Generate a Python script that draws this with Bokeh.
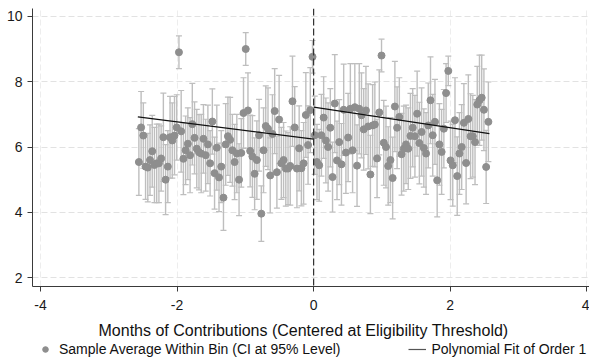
import numpy as np
from bokeh.plotting import figure
from bokeh.layouts import column
from bokeh.models import (Range1d, Whisker, TeeHead, ColumnDataSource, Span,
                          Legend, LegendItem, Title, FixedTicker)
from bokeh.embed import file_html
from bokeh.resources import INLINE

# ---------------- data ----------------
bin_width = 0.0326

left_y = [5.54, 6.60, 6.35, 5.40, 5.37, 5.60, 5.87, 5.45, 5.50, 5.50,
          5.65, 6.30, 5.00, 5.40, 6.30, 6.20, 6.35, 6.60, 8.90, 6.48,
          5.64, 5.90, 6.10, 5.75, 6.70, 6.28, 5.95, 5.84, 5.80, 6.25,
          5.75, 6.08, 5.50, 6.78, 5.20, 5.98, 5.07, 5.40, 4.45, 6.08,
          6.33, 6.22, 5.90, 5.54, 5.80, 5.00, 5.82, 7.04, 9.00, 7.12,
          5.88, 5.71, 5.18, 5.60, 6.36, 3.96, 5.90, 6.64, 6.56, 5.13,
          6.40, 7.10, 5.23, 6.84, 5.50, 5.60, 5.34, 5.34, 5.42, 7.40,
          6.60, 5.34, 5.96, 5.35, 5.50, 6.98, 6.06, 7.13, 8.76]
left_ci = [1.02, 1.10, 1.00, 1.00, 1.05, 1.08, 1.10, 1.15, 1.20, 1.20,
           1.00, 1.35, 1.07, 1.10, 1.25, 1.15, 1.20, 1.00, 0.50, 1.25,
           1.10, 1.05, 1.10, 1.15, 1.25, 1.10, 1.20, 1.15, 1.20, 1.05,
           1.10, 1.20, 1.00, 1.00, 1.10, 1.30, 1.05, 1.10, 1.00, 1.25,
           1.20, 1.30, 1.10, 1.15, 1.20, 1.10, 1.05, 1.08, 0.50, 1.15,
           1.10, 1.25, 1.10, 1.20, 1.10, 0.85, 1.30, 1.23, 1.25, 1.15,
           1.20, 1.30, 1.10, 1.35, 1.10, 1.15, 1.15, 1.10, 1.20, 1.38,
           1.25, 1.20, 1.30, 1.15, 1.25, 1.30, 1.20, 1.30, 0.50]

right_y = [6.36, 5.54, 5.44, 6.36, 6.90, 6.20, 6.00, 6.59, 5.08, 7.33,
           5.59, 6.15, 5.47, 7.14, 5.83, 6.29, 7.17, 5.90, 7.22, 5.43,
           7.17, 6.97, 6.54, 7.12, 6.63, 5.16, 6.66, 6.69, 5.65, 7.06,
           8.80, 6.13, 6.00, 5.42, 5.60, 5.05, 7.24, 6.59, 6.92, 5.78,
           5.95, 6.08, 5.95, 6.34, 6.59, 6.33, 7.02, 6.12, 6.46, 5.97,
           5.80, 6.66, 7.43, 6.36, 6.77, 4.98, 6.08, 5.85, 6.56, 7.65,
           8.33, 5.59, 5.44, 6.82, 5.11, 5.80, 6.00, 6.74, 5.51, 6.86,
           6.33, 6.33, 6.15, 7.30, 7.43, 7.51, 7.14, 5.39, 6.77]
right_ci = [1.20, 1.15, 1.10, 1.25, 1.25, 1.30, 1.35, 1.20, 1.07, 1.50,
            1.20, 1.30, 1.25, 1.40, 1.25, 1.35, 1.38, 1.30, 1.33, 1.25,
            1.38, 1.30, 1.25, 1.35, 1.30, 1.20, 1.25, 1.30, 1.20, 1.30,
            0.50, 1.30, 1.25, 1.20, 1.30, 1.25, 1.38, 1.25, 1.20, 1.25,
            1.30, 1.20, 1.25, 1.30, 1.20, 1.25, 1.30, 1.25, 1.35, 1.20,
            1.25, 1.30, 1.33, 1.25, 1.30, 1.12, 1.25, 1.30, 1.20, 0.90,
            0.45, 1.20, 1.25, 1.30, 1.20, 1.25, 1.30, 1.20, 1.25, 1.35,
            1.30, 1.25, 1.30, 1.17, 1.38, 1.30, 1.25, 1.12, 1.22]

fit_left_x = [-2.574, 0.0]
fit_left_y = [6.92, 6.24]
fit_right_x = [0.0, 2.574]
fit_right_y = [7.22, 6.41]

x_ticks = [-4, -2, 0, 2, 4]
y_ticks = [2, 4, 6, 8, 10]
x_title = "Months of Contributions (Centered at Eligibility Threshold)"
legend_points = "Sample Average Within Bin (CI at 95% Level)"
legend_fit = "Polynomial Fit of Order 1"

# ---------------- build ----------------
nl = len(left_y)
left_x = [-(nl - i - 0.5) * bin_width for i in range(nl)]
right_x = [(i + 0.5) * bin_width for i in range(len(right_y))]

xs = left_x + right_x
ys = left_y + right_y
cis = left_ci + right_ci
src = ColumnDataSource(dict(
    x=xs, y=ys,
    lo=[y - c for y, c in zip(ys, cis)],
    hi=[y + c for y, c in zip(ys, cis)],
))

FONT = "Liberation Sans"
PT_COLOR = "#8e8e8e"
FIT_COLOR = "#111111"

p = figure(width=589, height=345, output_backend="svg", toolbar_location=None,
           x_range=Range1d(-4.117, 4.04), y_range=Range1d(1.73, 10.24),
           min_border_left=32, min_border_right=0, min_border_top=8,
           min_border_bottom=52)
p.outline_line_color = None
p.background_fill_color = "white"
p.border_fill_color = "white"

p.xaxis.ticker = FixedTicker(ticks=x_ticks)
p.yaxis.ticker = FixedTicker(ticks=y_ticks)
p.xaxis.major_label_overrides = {t: str(t) for t in x_ticks}
p.axis.minor_tick_line_color = None
p.axis.major_tick_out = 5
p.axis.major_tick_in = 0
p.axis.axis_line_color = "#3a3a3a"
p.axis.major_tick_line_color = "#3a3a3a"
p.axis.major_label_text_font = FONT
p.axis.major_label_text_font_size = "14px"
p.axis.major_label_text_color = "#1a1a1a"
p.xaxis.major_label_standoff = 8
p.yaxis.major_label_standoff = 5

p.ygrid.grid_line_color = "#e2e2e2"
p.ygrid.grid_line_dash = "6 3"
p.xgrid.grid_line_color = "#ededed"
p.xgrid.grid_line_dash = "6 3"

ci_color = "#bebebe"
wh = Whisker(source=src, base="x", upper="hi", lower="lo", dimension="height",
             line_color=ci_color, line_width=1.4,
             upper_head=TeeHead(size=6, line_color=ci_color, line_width=1.2),
             lower_head=TeeHead(size=6, line_color=ci_color, line_width=1.2))
p.add_layout(wh)

p.scatter("x", "y", source=src, marker="circle", size=7,
          fill_color=PT_COLOR, line_color=PT_COLOR)

p.add_layout(Span(location=0, dimension="height", line_color="#333333",
                  line_width=1.2, line_dash="7 3"))

p.line(fit_left_x, fit_left_y, line_color=FIT_COLOR, line_width=1.3)
p.line(fit_right_x, fit_right_y, line_color=FIT_COLOR, line_width=1.3)

title = Title(text=x_title, align="left", offset=66, text_font=FONT,
              text_font_size="16px", text_font_style="normal",
              text_color="#111111", standoff=14)
p.add_layout(title, "below")

# ---- legend strip underneath (slightly overlapping the empty bottom of p) ----
lg = figure(width=589, height=21, output_backend="svg", toolbar_location=None,
            x_axis_type=None, y_axis_type=None, min_border=0,
            x_range=Range1d(0, 1), y_range=Range1d(0, 1))
lg.margin = (-4, 0, 0, 0)
lg.outline_line_color = None
lg.background_fill_alpha = 0
lg.border_fill_alpha = 0
lg.xgrid.visible = False
lg.ygrid.visible = False
# off-range proxies: only their legend swatches show
dummy_pts = lg.scatter([-10], [-10], marker="circle", size=7,
                       fill_color=PT_COLOR, line_color=PT_COLOR)
dummy_fit = lg.line([-10, -9], [-10, -10], line_color="#555555", line_width=1.2)

leg = Legend(items=[LegendItem(label=legend_points, renderers=[dummy_pts]),
                    LegendItem(label=legend_fit, renderers=[dummy_fit])],
             orientation="horizontal", location=(4, 5), spacing=68,
             glyph_width=18, glyph_height=14, label_height=14,
             label_standoff=5,
             label_text_font=FONT, label_text_font_size="14px",
             label_text_color="#111111", border_line_color=None,
             background_fill_alpha=0, margin=0, padding=0)
lg.add_layout(leg, "center")

layout = column(p, lg, spacing=0)
open("out.html", "w").write(file_html(layout, INLINE))
